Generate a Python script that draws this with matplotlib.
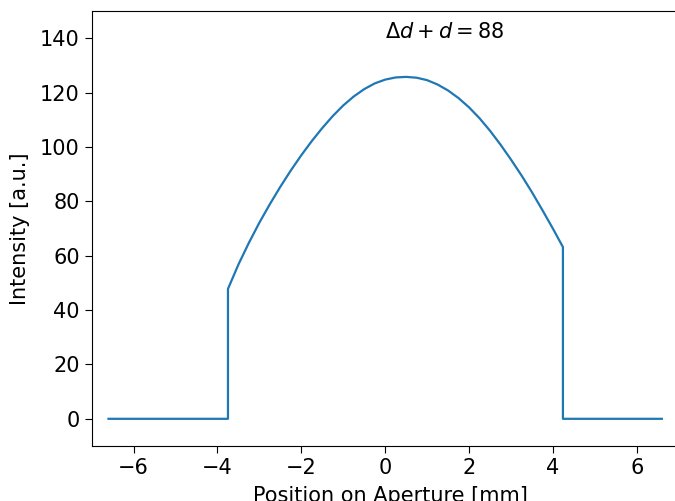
import numpy as np
import matplotlib
matplotlib.use('agg')
import matplotlib.pyplot as plt

# values (position in mm, intensity in a.u.)
pos = [-6.6, -3.75, -3.75, -3.5, -3.25, -3.0, -2.75, -2.5, -2.25, -2.0,
       -1.75, -1.5, -1.25, -1.0, -0.75, -0.5, -0.25, 0.0, 0.25, 0.5,
       0.75, 1.0, 1.25, 1.5, 1.75, 2.0, 2.25, 2.5, 2.75, 3.0,
       3.25, 3.5, 3.75, 4.0, 4.24, 4.24, 6.6]
intensity = [0.0, 0.0, 47.8, 56.8, 64.8, 72.2, 79.0, 85.4, 91.4, 97.0,
             102.2, 107.0, 111.4, 115.3, 118.6, 121.3, 123.4, 124.8, 125.6, 125.8,
             125.5, 124.6, 123.0, 120.8, 118.0, 114.6, 110.6, 106.0, 100.9, 95.4,
             89.6, 83.4, 76.8, 70.0, 63.2, 0.0, 0.0]
label_text = r'$\Delta d + d = 88$'

fig = plt.figure(figsize=(6.75, 5.01), dpi=100)
# right spine falls just outside the picture, like the cropped original
ax = fig.add_axes([0.1359, 0.1098, 0.885, 0.868])
ax.plot(pos, intensity, color='C0', linewidth=1.6)
ax.set_xlim(-7, 7.25)
ax.set_ylim(-10, 150)
ax.set_xticks([-6, -4, -2, 0, 2, 4, 6])
ax.set_yticks([0, 20, 40, 60, 80, 100, 120, 140])
ax.tick_params(labelsize=15, length=5)
ax.set_xlabel('Position on Aperture [mm]', fontsize=15, labelpad=6)
ax.set_ylabel('Intensity [a.u.]', fontsize=15, labelpad=7)
ax.text(0, 140, label_text, fontsize=15)

fig.savefig('out.png', dpi=100)
